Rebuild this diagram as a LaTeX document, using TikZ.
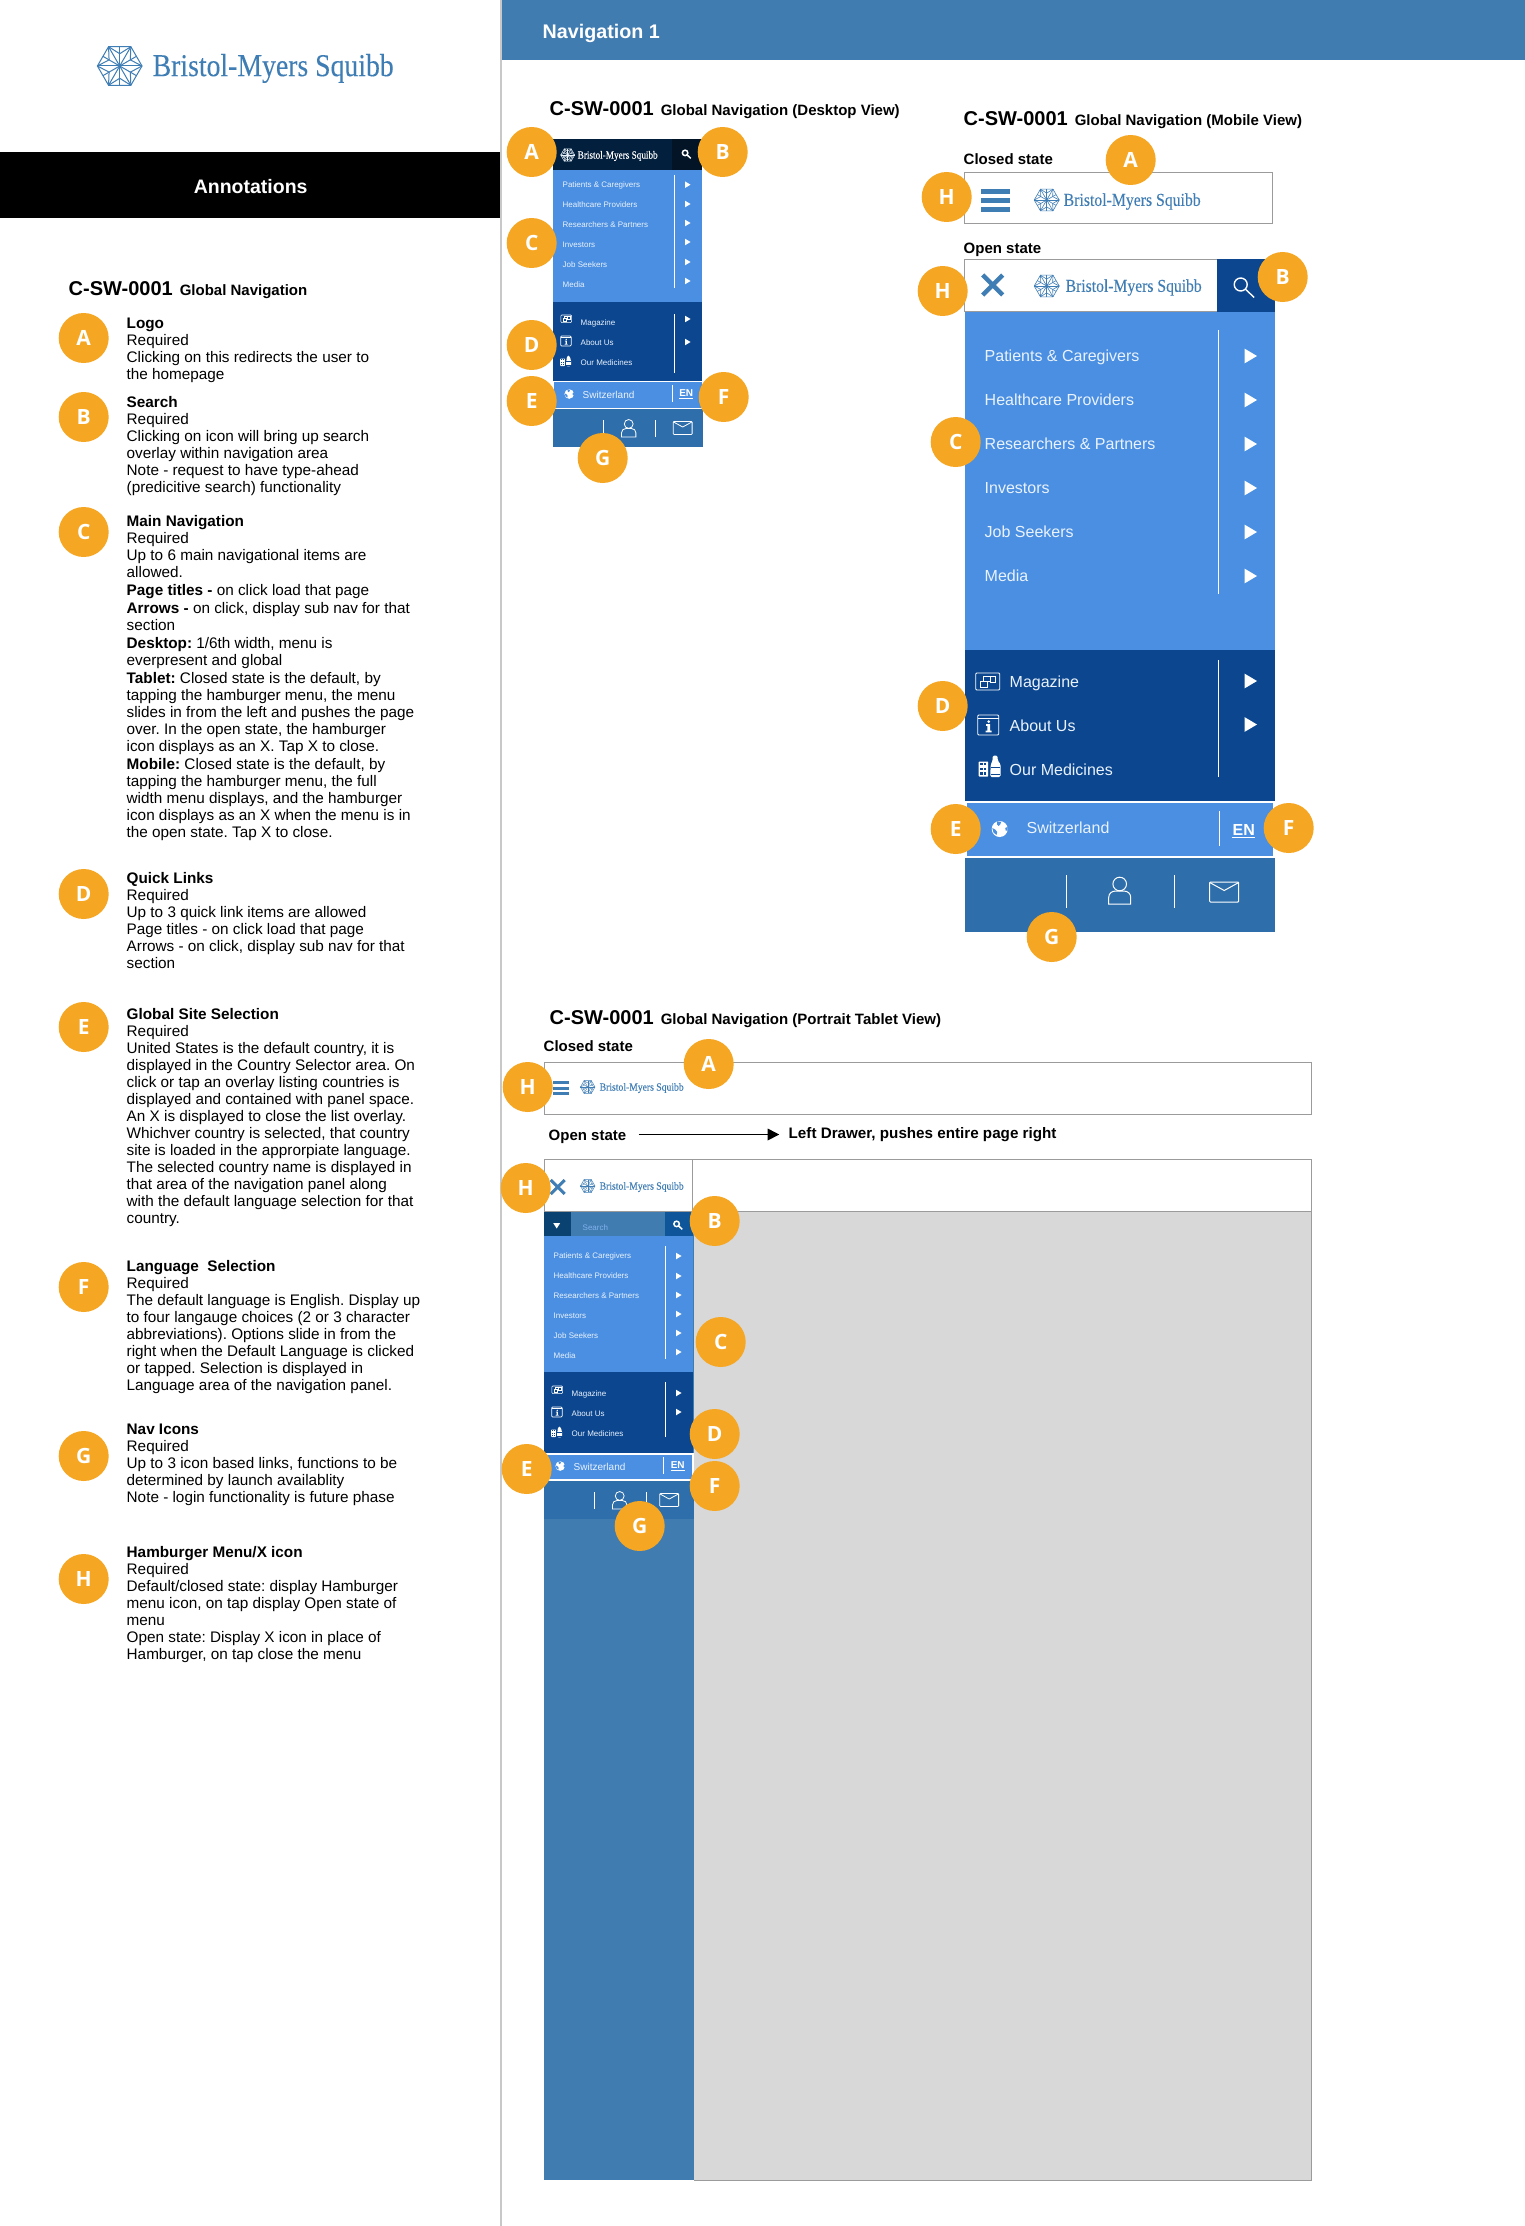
\documentclass[tikz,border=0pt]{standalone}
\usepackage{fontspec}
\usepackage{graphicx}
\setmainfont{Liberation Sans}
\newfontfamily\logofont{Liberation Serif}[FakeBold=0.12]
\newfontfamily\badgefont{Open Sans}
\frenchspacing
\definecolor{badgeor}{HTML}{F5A623}
\definecolor{headblue}{HTML}{417CB1}
\definecolor{navblue}{HTML}{4A8FE2}
\definecolor{navdark}{HTML}{0B468F}
\definecolor{navbar}{HTML}{2E6EAA}
\definecolor{deskhead}{HTML}{02203D}
\definecolor{deskcell}{HTML}{021426}
\definecolor{logoblue}{HTML}{3F7DB5}
\definecolor{rulegray}{HTML}{9B9B9B}
\definecolor{sepgray}{HTML}{C8C8C8}
\definecolor{panelgray}{HTML}{D8D8D8}
\definecolor{navtext}{HTML}{EAF2FC}
\definecolor{tabcell}{HTML}{0A4272}
\definecolor{tabsearch}{HTML}{0E5699}
\tikzset{
  badge/.style={circle,fill=badgeor,minimum size=50pt,inner sep=0pt,outer sep=0pt,text=white,font=\badgefont\fontsize{21}{21}\selectfont\bfseries},
  flat/.style={inner sep=0pt,outer sep=0pt},
  txt/.style={flat,anchor=mid west,text=navtext,font=\fontsize{#1}{#1}\selectfont},
  btxt/.style={flat,anchor=mid west,text=black,font=\fontsize{#1}{#1}\selectfont\bfseries},
  annotext/.style={flat,anchor=north west,align=left,text=black,font=\fontsize{15.3}{17}\selectfont},
  frame/.style={draw=rulegray,line width=1pt,fill=white},
  whiteline/.style={draw=white,line width=1pt},
  logotxt/.style={flat,anchor=west},
}
\newcommand\bmsicon[5]{%
  \begin{scope}[shift={(#1,#2)},x=#3pt,y=#3pt,draw=#4,line width=#5pt]
    \draw (0:1) -- (60:1) -- (120:1) -- (180:1) -- (240:1) -- (300:1) -- cycle;
    \foreach \a in {0,60,...,300}{
      \draw (0,0) -- (\a:1);
      \draw (\a:1) -- (\a+30:.55) -- (\a+60:1);
      \draw (0,0) -- (\a+30:.55);
      \draw (\a+30:.866) -- (\a+30:.55);
    }
  \end{scope}}
\newcommand\bmsword[6]{\node[logotxt,text=#6] (#1) at (#2,#3) {\resizebox*{#4pt}{#5pt}{\logofont Bristol-Myers Squibb}};}
\newcommand\searchicon[5]{%
  \begin{scope}[shift={(#1,#2)},scale=#3]
    \draw[#4,line width=#5pt] (-5,-5) circle (6.5);
    \draw[#4,line width=#5pt] (-.4,-.4) -- (8.5,8);
  \end{scope}}
\newcommand\tri[3]{\fill[white,shift={(#1,#2)},scale=#3] (-6,-7.3) -- (6.3,0) -- (-6,7.3) -- cycle;}
\newcommand\magicon[4]{%
  \begin{scope}[shift={(#1,#2)},scale=#3,draw=white,line width=#4pt]
    \draw[rounded corners=1pt] (-12,-9) rectangle (12,8);
    \draw (-4,-6) rectangle (3,-1);
    \draw (3,-6) rectangle (8,0);
    \draw (-7,-1) rectangle (0,5);
  \end{scope}}
\newcommand\infoicon[4]{%
  \begin{scope}[shift={(#1,#2)},scale=#3,draw=white,line width=#4pt]
    \draw[rounded corners=1pt] (-11,-10) rectangle (10,10);
    \draw (-11,-7) -- (10,-7);
    \fill[white] (0,-3.4) circle (1.5);
    \fill[white] (-2.6,-.8) -- (1.4,-.8) -- (1.4,5.6) -- (3,5.6) -- (3,7.4) -- (-3,7.4) -- (-3,5.6) -- (-1.3,5.6) -- (-1.3,.9) -- (-2.6,.9) -- cycle;
  \end{scope}}
\newcommand\medicon[3]{%
  \begin{scope}[shift={(#1,#2)},scale=#3]
    \fill[white,rounded corners=.6pt] (-11,-5) rectangle (-1.5,10);
    \foreach \y in {-2.5,2.5,7}{\fill[navdark] (-9.4,\y-1.4) rectangle (-7.2,\y+1); \fill[navdark] (-5.6,\y-1.4) rectangle (-3.4,\y+1);}
    \fill[white,rounded corners=1.5pt] (1,-2) -- (3,-6) -- (3,-11) -- (8,-11) -- (8,-6) -- (11,-2) -- (11,10.5) -- (0.5,10.5) -- cycle;
    \fill[navdark] (1.5,0) rectangle (10,.9);
    \fill[navdark] (1.5,7) rectangle (10,7.9);
  \end{scope}}
\newcommand\personicon[4]{%
  \begin{scope}[shift={(#1,#2)},scale=#3,draw=white,line width=#4pt]
    \draw (0,-7) circle (6.8);
    \draw (-11,13) -- (-11,6.5) .. controls (-11,2.5) and (-8,0) .. (-4,0) -- (4,0) .. controls (8,0) and (11,2.5) .. (11,6.5) -- (11,13) -- cycle;
  \end{scope}}
\newcommand\mailicon[4]{%
  \begin{scope}[shift={(#1,#2)},scale=#3,draw=white,line width=#4pt]
    \draw[rounded corners=.8pt] (-14.5,-10) rectangle (14.5,10);
    \draw (-14.5,-9.5) -- (0,-1.5) -- (14.5,-9.5);
  \end{scope}}
\newcommand\globeicon[4]{%
  \begin{scope}[shift={(#1,#2)},scale=#3]
    \fill[white] (0,0) circle (8);
    \fill[#4] (-2.5,-7.6) -- (1.5,-7.2) -- (.5,-4.5) -- (-1,-3) -- (-2.5,-4.5) -- cycle;
    \fill[#4] (-7.4,-1) -- (-4.5,.5) -- (-2.5,3) -- (-3.2,6) -- (-6.2,3.5) -- cycle;
    \fill[#4] (5.5,-1) -- (7.8,-2) -- (7.8,1.5) -- (6,1.5) -- cycle;
  \end{scope}}
% main list: prefix, text x, y0, font size, row pitch
\newcommand\mainlist[5]{%
  \foreach \i/\t in {0/Patients \& Caregivers,1/Healthcare Providers,2/Researchers \& Partners,3/Investors,4/Job Seekers,5/Media}{
    \node[txt=#4] (#1i\i) at (#2,#3+\i*#5) {\t};}}
\newcommand\quicklist[5]{%
  \foreach \i/\t in {0/Magazine,1/About Us,2/Our Medicines}{
    \node[txt=#4] (#1q\i) at (#2,#3+\i*#5) {\t};}}
\newcommand\cstitle[4]{\node[flat,anchor=base west,text=black] (#1) at (#2,#3) {{\fontsize{20}{20}\selectfont\bfseries C-SW-0001}\hspace{7pt}{\fontsize{15}{15}\selectfont\bfseries #4}};}
\newcommand\anno[3]{\node[annotext] (#1) at (126,#2-6.5) {\rule{0pt}{12pt}#3};}
\begin{document}
\begin{tikzpicture}[x=1pt,y=-1pt]
\useasboundingbox (0,0) rectangle (1524,2226);
\fill[white] (0,0) rectangle (1524,2226);
\begin{scope}[xshift=.7pt]
% left column
\fill[sepgray] (499.5,0) rectangle (501.5,2226);
\fill[headblue] (501,0) rectangle (1525,60);
\node[flat,anchor=mid west,text=white,font=\fontsize{19.7}{20}\selectfont\bfseries] (navtitle) at (542,36) {Navigation 1};
\fill[black] (-1,152) rectangle (499,218);
\node[flat,text=white,font=\fontsize{19.5}{20}\selectfont\bfseries] (annohead) at (250,187) {Annotations};
\bmsicon{119}{66}{22.3}{logoblue}{1}
\bmsword{logomain}{152}{68.5}{241}{29}{logoblue}
\cstitle{lefttitle}{68}{295}{Global Navigation}
\anno{tA}{323}{\textbf{Logo}\\Required\\Clicking on this redirects the user to\\the homepage}
\anno{tB}{402}{\textbf{Search}\\Required\\Clicking on icon will bring up search\\overlay within navigation area\\Note - request to have type-ahead\\(predicitive search) functionality}
\anno{tC}{521}{\textbf{Main Navigation}\\Required\\Up to 6 main navigational items are\\allowed.\\[1pt]\textbf{Page titles -} on click load that page\\[1pt]\textbf{Arrows -} on click, display sub nav for that\\section\\[1pt]\textbf{Desktop:} 1/6th width, menu is\\everpresent and global\\[1pt]\textbf{Tablet:} Closed state is the default, by\\tapping the hamburger menu, the menu\\slides in from the left and pushes the page\\over. In the open state, the hamburger\\icon displays as an X. Tap X to close.\\[1pt]\textbf{Mobile:} Closed state is the default, by\\tapping the hamburger menu, the full\\width menu displays, and the hamburger\\icon displays as an X when the menu is in\\the open state. Tap X to close.}
\anno{tD}{878}{\textbf{Quick Links}\\Required\\Up to 3 quick link items are allowed\\Page titles - on click load that page\\Arrows - on click, display sub nav for that\\section}
\anno{tE}{1014}{\textbf{Global Site Selection}\\Required\\United States is the default country, it is\\displayed in the Country Selector area. On\\click or tap an overlay listing countries is\\displayed and contained with panel space.\\An X is displayed to close the list overlay.\\Whichver country is selected, that country\\site is loaded in the approrpiate language.\\The selected country name is displayed in\\that area of the navigation panel along\\with the default language selection for that\\country.}
\anno{tF}{1266}{\textbf{Language\ \ Selection}\\Required\\The default language is English. Display up\\to four langauge choices (2 or 3 character\\abbreviations). Options slide in from the\\right when the Default Language is clicked\\or tapped. Selection is displayed in\\Language area of the navigation panel.}
\anno{tG}{1429}{\textbf{Nav Icons}\\Required\\Up to 3 icon based links, functions to be\\determined by launch availablity\\Note - login functionality is future phase}
\anno{tH}{1552}{\textbf{Hamburger Menu/X icon}\\Required\\Default/closed state: display Hamburger\\menu icon, on tap display Open state of\\menu\\Open state: Display X icon in place of\\Hamburger, on tap close the menu}
% ---------- desktop ----------
\cstitle{desktitle}{549}{116}{Global Navigation (Desktop View)}
\fill[deskhead] (552,139) rectangle (701,170);
\fill[deskcell] (671,139) rectangle (701,170);
\fill[navblue] (552,170) rectangle (701,302);
\fill[navdark] (552,302) rectangle (701,381);
\fill[navblue] (553,382) rectangle (701,408);
\fill[navbar] (552,409) rectangle (702,447);
\bmsicon{567}{155}{7}{navtext}{.45}
\bmsword{logodesk}{577}{156}{80}{10}{white}
\searchicon{686.5}{155}{.42}{white}{1.5}
\mainlist{d}{562}{184.5}{8}{20}
\draw[whiteline] (673.5,175) -- (673.5,288);
\foreach \y in {184.7,204,223,242,262,281}{\tri{687}{\y}{.45}}
\quicklist{dd}{580}{322.5}{8}{20}
\draw[whiteline] (673.5,314) -- (673.5,373);
\tri{687}{319}{.45}\tri{687}{342}{.45}
\magicon{565.5}{319}{.45}{.6}\infoicon{565.5}{341}{.5}{.7}\medicon{565}{361}{.5}
\globeicon{568.5}{394}{.6}{navblue}
\node[txt=10] (dsw) at (582,396) {Switzerland};
\draw[whiteline] (671.5,385) -- (671.5,402);
\node[flat,text=white,font=\fontsize{10}{10}\selectfont\bfseries] (den) at (685.5,393.5) {EN};
\draw[draw=white,line width=.7pt] (678.5,398.5) -- (692.5,398.5);
\draw[whiteline] (602.5,420) -- (602.5,437);
\draw[whiteline] (654.5,420) -- (654.5,437);
\personicon{628}{428.5}{.65}{.8}
\mailicon{682}{428}{.65}{.8}
% ---------- mobile ----------
\cstitle{mobtitle}{963}{126}{Global Navigation (Mobile View)}
\node[btxt=15] (mobclosed) at (963,162) {Closed state};
\draw[frame] (963.5,172.5) rectangle (1272,224);
\fill[logoblue] (980,189) rectangle (1009,194);
\fill[logoblue] (980,198) rectangle (1009,203);
\fill[logoblue] (980,207) rectangle (1009,212);
\bmsicon{1046}{200}{12.5}{logoblue}{.6}
\bmsword{logomobc}{1063}{201.5}{137}{16.5}{logoblue}
\node[btxt=15] (mobopen) at (963,250.5) {Open state};
\draw[frame] (963.5,259.5) rectangle (1272,311);
\fill[navdark] (1216,259) rectangle (1274,312);
\draw[logoblue,line width=4.5pt] (982,275) -- (1002,295) (1002,275) -- (982,295);
\bmsicon{1046}{286}{12.5}{logoblue}{.6}
\bmsword{logomobo}{1065}{287.5}{136}{16.5}{logoblue}
\searchicon{1245}{289.5}{1}{white}{1.4}
\fill[navblue] (964,312) rectangle (1274,650);
\fill[navdark] (964,650) rectangle (1274,801);
\fill[navblue] (966,803) rectangle (1272,856);
\fill[navbar] (964,858) rectangle (1274,932);
\mainlist{m}{984}{359}{16}{44}
\draw[whiteline] (1217.5,330) -- (1217.5,594);
\foreach \y in {356,400,444,488,532,576}{\tri{1250}{\y}{1}}
\quicklist{mm}{1009}{684.5}{16}{44}
\draw[whiteline] (1217.5,660) -- (1217.5,777);
\tri{1250}{681}{1}\tri{1250}{724.5}{1}
\magicon{987}{682}{1}{.9}\infoicon{988}{725}{1}{.9}\medicon{989}{766.5}{1}
\globeicon{999}{829}{1}{navblue}
\node[txt=16] (msw) at (1026,831) {Switzerland};
\draw[whiteline] (1218.5,811) -- (1218.5,846);
\node[flat,text=white,font=\fontsize{16}{16}\selectfont\bfseries] (men) at (1243,829.5) {EN};
\draw[draw=white,line width=1pt] (1231,837.5) -- (1254,837.5);
\draw[whiteline] (1065.5,875) -- (1065.5,908);
\draw[whiteline] (1173.5,875) -- (1173.5,908);
\personicon{1119}{891}{1}{1}
\mailicon{1223.5}{892}{1}{1}
% ---------- tablet ----------
\cstitle{tabtitle}{549}{1024}{Global Navigation (Portrait Tablet View)}
\node[btxt=15] (tabclosed) at (543,1049) {Closed state};
\draw[frame] (543.5,1062.5) rectangle (1310.5,1114);
\fill[logoblue] (552,1081) rectangle (568,1084);
\fill[logoblue] (552,1086.5) rectangle (568,1089.5);
\fill[logoblue] (552,1092) rectangle (568,1095);
\bmsicon{587}{1087}{7.3}{logoblue}{.4}
\bmsword{logotabc}{599}{1088}{84}{10}{logoblue}
\node[btxt=15] (tabopen) at (548,1137.5) {Open state};
\node[btxt=15.2] (drawer) at (788,1136) {Left Drawer, pushes entire page right};
\coordinate (arrs) at (638,1134.5);
\coordinate (arre) at (778.5,1134.5);
\draw[black,line width=.9pt] (arrs) -- (arre);
\fill[black] (arre) -- ++(-11.5,-6) -- ++(0,12) -- cycle;
\draw[frame] (543.5,1159.5) rectangle (1310.5,1211);
\draw[rulegray,line width=1pt] (692,1159.5) -- (692,1211);
\draw[logoblue,line width=3pt] (550,1180) -- (564,1194) (564,1180) -- (550,1194);
\bmsicon{587}{1186}{7.3}{logoblue}{.4}
\bmsword{logotabo}{599}{1187}{84}{10}{logoblue}
\fill[panelgray] (693,1212) rectangle (1310.5,2180);
\draw[rulegray,line width=.5pt] (693,1211.5) -- (1310.5,1211.5) -- (1310.5,2180) -- (693,2180);
\fill[headblue] (543,1212) rectangle (693,2180);
\fill[tabcell] (543,1212) rectangle (570,1236);
\fill[tabsearch] (664,1212) rectangle (692,1236);
\fill[white] (552.5,1223) -- (559.5,1223) -- (556,1228.5) -- cycle;
\node[flat,anchor=mid west,text=navblue!70!white,font=\fontsize{8}{8}\selectfont] (tsearch) at (582,1228) {Search};
\searchicon{678}{1226}{.42}{white}{1.5}
\fill[navblue] (543,1236) rectangle (692,1372);
\fill[navdark] (543,1372) rectangle (692,1453);
\fill[white] (543,1453) rectangle (693,1481);
\fill[navblue] (545,1455) rectangle (691,1479);
\fill[navbar] (543,1481) rectangle (693,1519);
\mainlist{t}{553}{1255.7}{8}{20}
\draw[whiteline] (664.5,1246) -- (664.5,1359);
\foreach \y in {1256,1276,1295,1314,1333,1352}{\tri{678}{\y}{.45}}
\quicklist{tt}{571}{1393.7}{8}{20}
\draw[whiteline] (664.5,1382) -- (664.5,1437);
\tri{678}{1393}{.45}\tri{678}{1412}{.45}
\magicon{556.5}{1390}{.45}{.6}\infoicon{556.5}{1412}{.5}{.7}\medicon{556}{1432}{.5}
\globeicon{559.5}{1466}{.6}{navblue}
\node[txt=10] (tsw) at (573,1468) {Switzerland};
\draw[whiteline] (662.5,1457) -- (662.5,1474);
\node[flat,text=white,font=\fontsize{10}{10}\selectfont\bfseries] (ten) at (677,1465.5) {EN};
\draw[draw=white,line width=.7pt] (670,1470.5) -- (684,1470.5);
\draw[whiteline] (593.5,1492) -- (593.5,1509);
\draw[whiteline] (645.5,1492) -- (645.5,1509);
\personicon{619}{1500.5}{.65}{.8}
\mailicon{668.5}{1500}{.65}{.8}
% ---------- badges ----------
\foreach \n/\l/\x/\y in {
  la/A/83/338, lb/B/83/417, lc/C/83/532, ld/D/83/894, le/E/83/1027, lf/F/83/1287, lg/G/83/1456, lh/H/83/1579,
  da/A/531/152, db/B/722/152, dc/C/531/243, dd/D/531/345, de/E/531/401, df/F/723/397, dg/G/602/458,
  ma/A/1130/160, mh/H/946/197, mhh/H/942/291, mb/B/1282/277, mc/C/955/442, md/D/942/706, me/E/955/829, mf/F/1288/828, mg/G/1051/937,
  ta/A/708/1064, th/H/527/1087, thh/H/525/1188, tb/B/714/1221, tc/C/720/1342, td/D/714/1434, te/E/526/1469, tf/F/714/1486, tg/G/639/1526}{
  \node[badge] (b\n) at (\x,\y) {\l};
}
\end{scope}
\end{tikzpicture}
\end{document}
